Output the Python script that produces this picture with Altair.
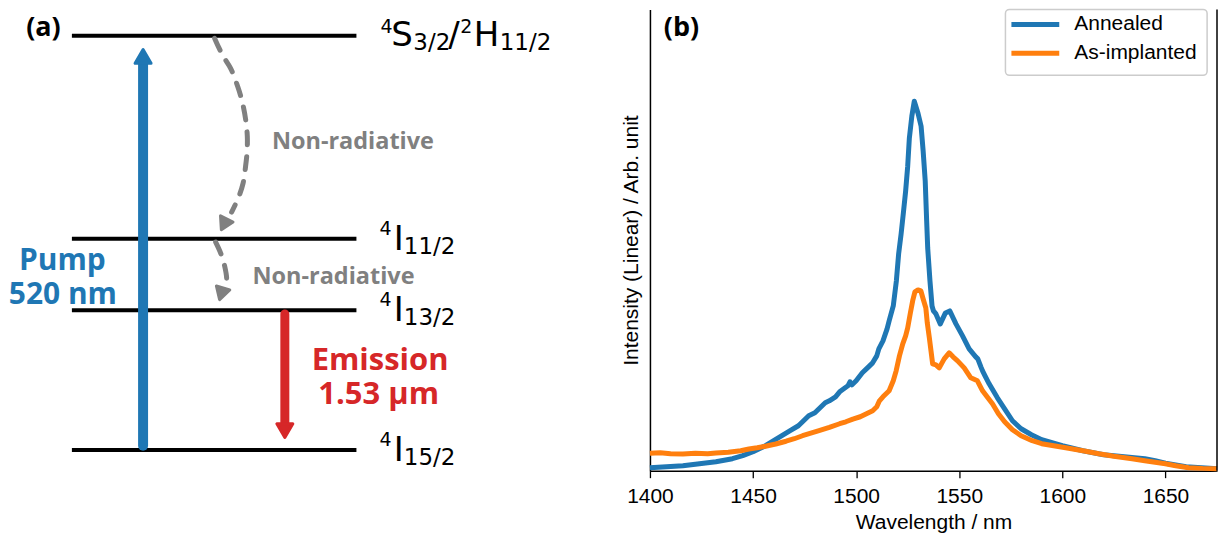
import altair as alt
import pandas as pd

# ---------------- panel (b): photoluminescence spectra ----------------
series_names = ["Annealed", "As-implanted"]
series_colors = ["#1f77b4", "#ff7f0e"]
x_ticks = [1400, 1450, 1500, 1550, 1600, 1650]

annealed_wl = [1400, 1408, 1416, 1424, 1432, 1440, 1445, 1450, 1456, 1460, 1464, 1468,
               1472, 1475, 1477, 1480, 1483, 1485, 1487, 1490, 1492, 1494, 1496, 1497,
               1498, 1500, 1503, 1506, 1508, 1510, 1511, 1513, 1515, 1516, 1518, 1519.5,
               1520.6, 1521.8, 1523, 1524, 1525, 1525.8, 1527, 1528.2, 1530, 1531.5,
               1532.5, 1533.5, 1534.2, 1534.7, 1535.8, 1536.8, 1537.5, 1538.7, 1540.8,
               1543.3, 1545.4, 1548.4, 1551.6, 1554.8, 1558, 1559, 1560.5, 1561.3,
               1562.5, 1564.5, 1568.5, 1572, 1575.8, 1580, 1585, 1590, 1600, 1610,
               1620, 1630, 1640, 1645, 1650, 1660, 1675]
annealed_I = [3, 4, 5, 7, 9, 12, 15, 19, 25, 30, 35, 40,
              45, 51, 55, 58, 64, 68, 70, 74, 79, 82, 85, 89,
              86, 90, 98, 104, 108, 115, 122, 130, 142, 150, 165, 190,
              217, 237, 260, 280, 305, 333, 355, 370, 358, 345,
              320, 290, 250, 223, 190, 165, 160, 157, 147,
              158, 160, 147, 135, 122, 114, 112, 104, 100,
              95, 87, 73, 62, 50, 42, 36, 31, 25, 20,
              16, 14, 12, 10, 7.5, 4, 2]

implanted_wl = [1400, 1405, 1410, 1416, 1422, 1428, 1432, 1438, 1444, 1448, 1452, 1456,
                1461, 1466, 1470, 1474, 1478, 1482, 1487, 1492, 1495, 1498.4, 1502, 1505,
                1508, 1510, 1511.3, 1513, 1516, 1518, 1519.4, 1521, 1522.6, 1524, 1525,
                1526.3, 1527.4, 1528.5, 1530, 1531.4, 1532.5, 1533.8, 1534.5, 1535.5,
                1536.3, 1537.1, 1538.7, 1540.3, 1542.7, 1545.1, 1547, 1549.2, 1552.4,
                1555.6, 1558.8, 1561.3, 1563.5, 1566.1, 1569, 1572, 1575.8, 1580, 1585.4,
                1590, 1601.6, 1610, 1617.7, 1625, 1633.8, 1640, 1650, 1655, 1661.2, 1668, 1675]
implanted_I = [17.5, 18, 17, 16.7, 17.5, 17, 17.7, 18.5, 20, 21.7, 23, 24.5,
               26.7, 29.5, 32, 35, 37.5, 40, 43.3, 47, 49, 51.7, 54, 57,
               60, 64, 70, 74, 80, 90, 100, 115, 127, 135, 143,
               158, 170, 179, 181, 180, 172, 163, 148, 133,
               120, 107, 106, 103, 112, 118, 114, 110, 103,
               93, 90, 80, 74, 67, 57, 49, 41, 35, 30,
               27, 23, 20, 17, 14.5, 12, 10, 7, 5, 3, 2.3, 2]

spec = pd.DataFrame({
    "wl": annealed_wl + implanted_wl,
    "I": annealed_I + implanted_I,
    "series": [series_names[0]] * len(annealed_wl) + [series_names[1]] * len(implanted_wl),
})

# legend box / entries, in the panel's data coordinates
legend_box = {"wl": [1572.4], "wl2": [1670.2], "I": [462], "I2": [396]}
legend_sym_wl = [1575.3, 1598.5]
legend_label_wl = 1605.8
legend_row_I = [447, 418]

# ---------------- panel (a): energy-level diagram (page-pixel coordinates) ----------------
level_y = [34.3, 237.7, 309.3, 449.3]
level_x_start = [71, 71, 71, 71]
level_x_end = [356, 356, 356, 356]

shaft_x = [142.3, 284.3]
shaft_y_start = [445, 313]
shaft_y_end = [62, 425]
shaft_color = ["#1f77b4", "#d62728"]
shaft_width = [10, 9]

head_x = [142.3, 284.3, 223.4, 220.7]
head_y = [55.1, 429.9, 223.2, 292.8]
head_shape = ["triangle-up", "triangle-down", "triangle-down", "triangle-down"]
head_angle = [0, 0, 26.6, 16.7]
head_size = [256, 256, 196, 196]
head_color = ["#1f77b4", "#d62728", "#808080", "#808080"]

curve1_x = [214, 222, 230, 237, 241.5, 245, 246.7, 246.5, 245, 242.5, 238, 231]
curve1_y = [37, 54, 67, 85, 100, 118, 135, 150, 165, 182, 196, 211]
curve2_x = [215, 220, 224, 226, 224.5]
curve2_y = [241, 252, 265, 278, 287]

lab_text = ["4", "S", "3/2", "/", "2", "H", "11/2",
            "4", "I", "11/2",
            "4", "I", "13/2",
            "4", "I", "15/2"]
lab_x = [380, 391, 413, 448, 460, 473.4, 499.5,
         379, 393.4, 403.5,
         379, 393.4, 403.5,
         379, 393.4, 403.5]
lab_y = [32, 45, 49, 45, 32, 45, 49,
         234, 249, 253,
         305, 320, 324,
         445, 460, 464]
lab_size = [19, 34, 23, 34, 19, 34, 23,
            19, 34, 23,
            19, 34, 23,
            19, 34, 23]

bold_text = ["(a)", "Pump", "520 nm", "Emission", "1.53 µm", "Non-radiative", "Non-radiative"]
bold_x = [42.5, 61.5, 62, 379.7, 378.3, 352.5, 333]
bold_y = [34.5, 269, 303, 369, 403, 148, 283]
bold_size = [27, 30, 30, 31, 31, 23.5, 23.5]
bold_color = ["black", "#1f77b4", "#1f77b4", "#d62728", "#d62728", "#808080", "#808080"]

# ---------------- left panel ----------------
left_xs = alt.Scale(domain=[8, 628], nice=False, zero=False)
left_ys = alt.Scale(domain=[8, 470], nice=False, zero=False, reverse=True)


def LX(f):
    return alt.X(f, type="quantitative", scale=left_xs, axis=None)


def LY(f):
    return alt.Y(f, type="quantitative", scale=left_ys, axis=None)


levels_df = pd.DataFrame({"x0": level_x_start, "x1": level_x_end, "y": level_y})
levels = alt.Chart(levels_df).mark_rule(color="black", strokeWidth=4).encode(
    x=LX("x0"), x2="x1", y=LY("y"))

shafts_df = pd.DataFrame({"x": shaft_x, "ya": shaft_y_start, "yb": shaft_y_end,
                          "c": shaft_color, "w": shaft_width})
shafts = alt.Chart(shafts_df).mark_rule(strokeCap="round").encode(
    x=LX("x"), y=LY("ya"), y2="yb",
    color=alt.Color("c:N", scale=None),
    strokeWidth=alt.StrokeWidth("w:Q", scale=None))

curves_df = pd.DataFrame({
    "x": curve1_x + curve2_x,
    "y": curve1_y + curve2_y,
    "o": list(range(len(curve1_x))) + list(range(len(curve2_x))),
    "curve": ["c1"] * len(curve1_x) + ["c2"] * len(curve2_x),
})
curves = alt.Chart(curves_df).mark_line(
    color="#808080", strokeWidth=5, strokeDash=[13, 12], strokeCap="round",
    interpolate="catmull-rom").encode(
    x=LX("x"), y=LY("y"), order="o:Q", detail="curve:N")

heads_df = pd.DataFrame({"x": head_x, "y": head_y, "shape": head_shape,
                         "ang": head_angle, "sz": head_size, "c": head_color})
heads = alt.Chart(heads_df).mark_point(
    filled=True, opacity=1, strokeWidth=3, strokeJoin="round").encode(
    x=LX("x"), y=LY("y"),
    shape=alt.Shape("shape:N", scale=None),
    angle=alt.Angle("ang:Q", scale=None),
    size=alt.Size("sz:Q", scale=None),
    fill=alt.Fill("c:N", scale=None),
    stroke=alt.Stroke("c:N", scale=None))

labels_df = pd.DataFrame({"t": lab_text, "x": lab_x, "y": lab_y, "fs": lab_size})
labels = alt.Chart(labels_df).mark_text(
    align="left", baseline="alphabetic", font="DejaVu Sans", color="black").encode(
    x=LX("x"), y=LY("y"), text="t:N", size=alt.Size("fs:Q", scale=None))

bold_df = pd.DataFrame({"t": bold_text, "x": bold_x, "y": bold_y,
                        "fs": bold_size, "c": bold_color})
bold = alt.Chart(bold_df).mark_text(
    align="center", baseline="alphabetic", font="Open Sans", fontWeight="bold").encode(
    x=LX("x"), y=LY("y"), text="t:N",
    size=alt.Size("fs:Q", scale=None),
    color=alt.Color("c:N", scale=None))

left = alt.layer(levels, curves, shafts, heads, labels, bold).properties(width=620, height=462)

# ---------------- right panel ----------------
xs = alt.Scale(domain=[1400, 1675], nice=False, zero=False)
ys = alt.Scale(domain=[0, 462], nice=False, zero=False)
FONT = "Liberation Sans"

lines = alt.Chart(spec).mark_line(strokeWidth=5, strokeJoin="round").encode(
    x=alt.X("wl:Q", scale=xs, axis=alt.Axis(
        values=x_ticks, format="d", title="Wavelength / nm", grid=False, tickSize=7,
        tickWidth=1.3, tickColor="black", domainColor="black", domainWidth=1.5,
        labelFont=FONT, labelFontSize=21, labelColor="black", labelPadding=8,
        labelFlush=False, titleFont=FONT, titleFontSize=21, titleFontWeight="normal",
        titleColor="black", titlePadding=5)),
    y=alt.Y("I:Q", scale=ys, axis=alt.Axis(
        ticks=False, labels=False, grid=False, domainColor="black", domainWidth=1.5,
        title="Intensity (Linear) / Arb. unit", titleFont=FONT, titleFontSize=21,
        titleFontWeight="normal", titleColor="black", titlePadding=8)),
    color=alt.Color("series:N", scale=alt.Scale(domain=series_names, range=series_colors),
                    legend=None),
)

spine_df = pd.DataFrame({"wl": [1675], "I": [0], "I2": [462]})
spine = alt.Chart(spine_df).mark_rule(color="black", strokeWidth=1.5).encode(
    x=alt.X("wl:Q", scale=xs), y=alt.Y("I:Q", scale=ys), y2="I2")

btext_df = pd.DataFrame({"wl": [1415.3], "I": [435.5], "t": ["(b)"]})
btext = alt.Chart(btext_df).mark_text(
    align="center", baseline="alphabetic", font="Open Sans", fontWeight="bold",
    fontSize=27, color="black").encode(
    x=alt.X("wl:Q", scale=xs), y=alt.Y("I:Q", scale=ys), text="t:N")

# legend drawn in data space
box = alt.Chart(pd.DataFrame(legend_box)).mark_rect(
    fill="white", stroke="#cccccc", strokeWidth=1.5, cornerRadius=4, opacity=1).encode(
    x=alt.X("wl:Q", scale=xs), x2="wl2", y=alt.Y("I:Q", scale=ys), y2="I2")

leg_df = pd.DataFrame({
    "wl": [legend_sym_wl[0]] * 2, "wl2": [legend_sym_wl[1]] * 2,
    "I": legend_row_I, "lab_wl": [legend_label_wl] * 2,
    "series": series_names,
})
leg_sym = alt.Chart(leg_df).mark_rule(strokeWidth=5).encode(
    x=alt.X("wl:Q", scale=xs), x2="wl2", y=alt.Y("I:Q", scale=ys),
    color=alt.Color("series:N", scale=alt.Scale(domain=series_names, range=series_colors),
                    legend=None))
leg_txt = alt.Chart(leg_df).mark_text(
    align="left", baseline="middle", font=FONT, fontSize=21, color="black").encode(
    x=alt.X("lab_wl:Q", scale=xs), y=alt.Y("I:Q", scale=ys), text="series:N")

right = alt.layer(lines, spine, btext, box, leg_sym, leg_txt).properties(width=568, height=462)

chart = alt.hconcat(left, right, spacing=22, bounds="flush", padding=0).configure_view(stroke=None)

chart.save("out.html", embed_options={"renderer": "svg", "actions": False})
